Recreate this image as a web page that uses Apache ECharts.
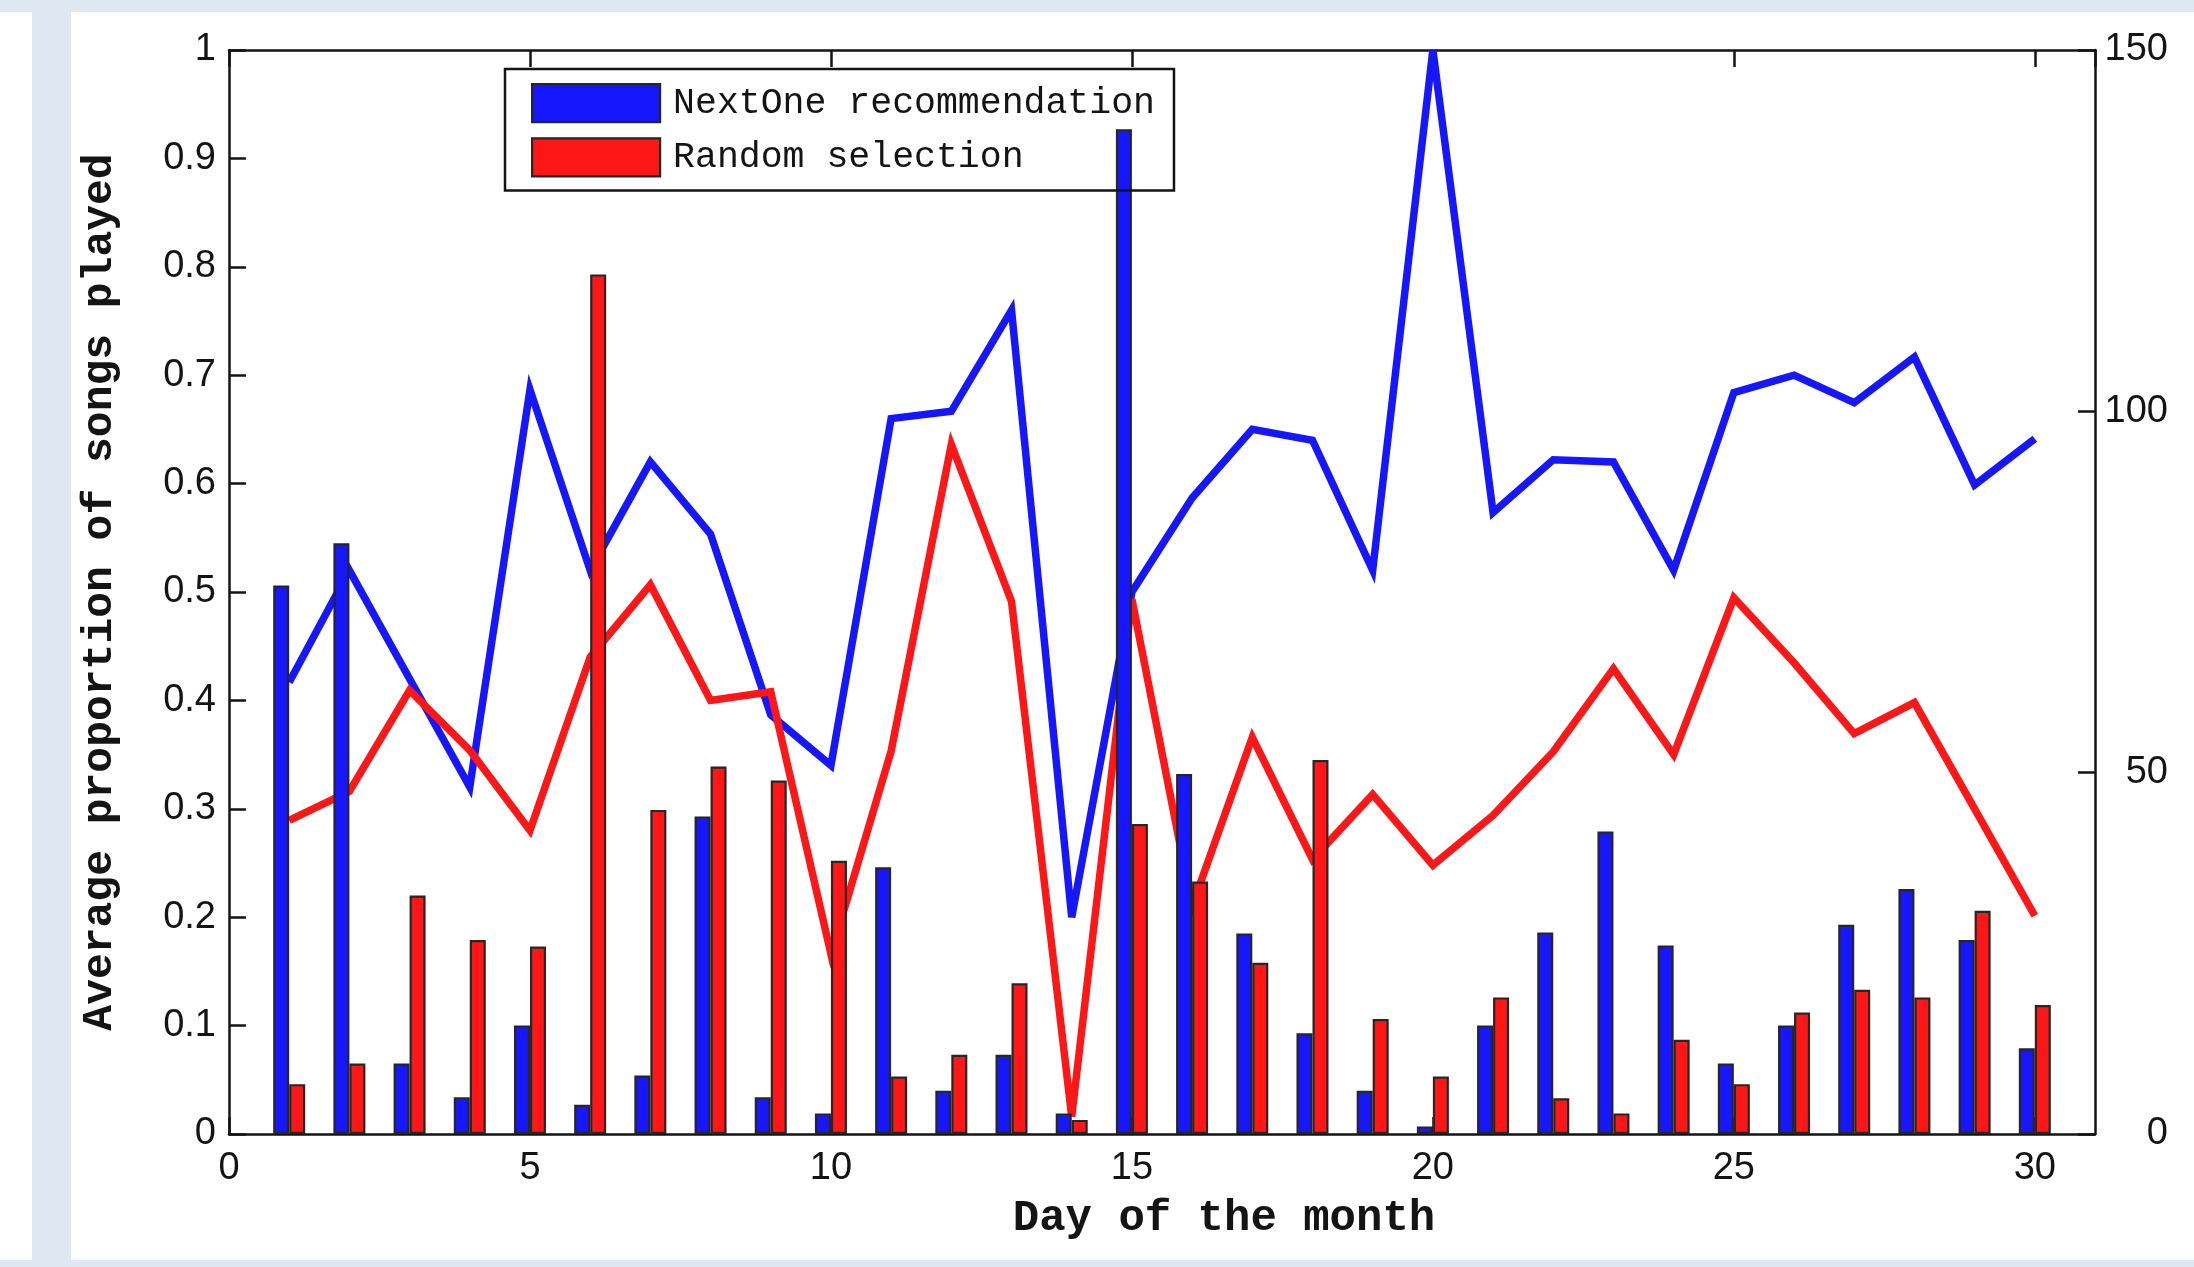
<!DOCTYPE html>
<html>
<head>
<meta charset="utf-8">
<title>Average proportion of songs played by day of the month</title>
<script src="https://cdn.jsdelivr.net/npm/echarts@6/dist/echarts.min.js"></script>
<style>
  html, body { margin: 0; padding: 0; }
  body { width: 2194px; height: 1267px; background: #dfe8f1; position: relative; overflow: hidden; }
  .panel { position: absolute; background: #ffffff; }
  #chart { position: absolute; left: 0; top: 0; width: 2194px; height: 1267px; }
</style>
</head>
<body>
<div class="panel" style="left:0;top:12px;width:32px;height:1248px;"></div>
<div class="panel" style="left:71px;top:12px;width:2123px;height:1248px;"></div>
<div id="chart"></div>
<script>
// Day of the month
const days = [1, 2, 3, 4, 5, 6, 7, 8, 9, 10, 11, 12, 13, 14, 15,
              16, 17, 18, 19, 20, 21, 22, 23, 24, 25, 26, 27, 28, 29, 30];

// Bars: average proportion of songs played (left axis, 0-1)
const nextOneBars = [0.506, 0.545, 0.065, 0.034, 0.100, 0.027, 0.054, 0.293, 0.034, 0.019,
                     0.246, 0.040, 0.073, 0.019, 0.927, 0.332, 0.185, 0.093, 0.040, 0.007,
                     0.100, 0.186, 0.279, 0.174, 0.065, 0.100, 0.193, 0.226, 0.179, 0.079];
const randomBars  = [0.046, 0.065, 0.220, 0.179, 0.173, 0.793, 0.299, 0.339, 0.326, 0.252,
                     0.053, 0.073, 0.139, 0.013, 0.286, 0.233, 0.158, 0.345, 0.106, 0.053,
                     0.126, 0.033, 0.019, 0.087, 0.046, 0.112, 0.133, 0.126, 0.206, 0.119];

// Lines: daily totals on the right axis (0-150)
const nextOneLine = [62.5, 78, 63, 48, 103, 78, 93, 83, 58, 51,
                     99, 100, 114, 30, 75, 88, 97.5, 96, 78, 150,
                     86, 93.3, 93, 78, 102.6, 105, 101.2, 107.5, 89.8, 96.2];
const randomLine  = [43.4, 47.4, 61.4, 53.1, 42, 66, 76, 60, 61.2, 24.9,
                     53, 95.4, 73.7, 2.4, 74, 31.5, 54.9, 38, 47, 37.2,
                     44.1, 52.9, 64.4, 52.5, 74.2, 65.2, 55.4, 59.7, 45, 30.2];

// Axis ticks
const xTicks = { min: 0, max: 31, interval: 5 };
const leftTicks = { min: 0, max: 1, interval: 0.1 };
const rightTicks = { min: 0, max: 150, interval: 50 };

const seriesNames = ['NextOne recommendation', 'Random selection'];

const BLUE = '#1717ff';
const RED = '#ff1717';
const INK = '#141414';
const EDGE = '#262626';

const pairs = (xs, ys) => xs.map((x, i) => [x, ys[i]]);

const tickFont = { fontFamily: 'Liberation Sans, Arial, Helvetica, sans-serif', fontSize: 38, color: INK };
const titleFont = { fontFamily: 'Liberation Mono, Courier New, monospace', fontWeight: 'bold', color: INK };
const axisLine = { show: true, onZero: false, lineStyle: { color: INK, width: 2.5 } };
const innerTick = { show: true, inside: true, length: 17, lineStyle: { color: INK, width: 2.5 } };

const chart = echarts.init(document.getElementById('chart'), null, { renderer: 'canvas' });

chart.setOption({
  backgroundColor: 'transparent',
  animation: false,
  grid: { left: 229, top: 50, right: 99, bottom: 133, containLabel: false },
  legend: {
    data: seriesNames,
    orient: 'vertical',
    left: 505,
    top: 69,
    padding: [14, 19, 13, 26],
    itemWidth: 128,
    itemHeight: 38,
    itemGap: 14,
    icon: 'rect',
    borderColor: INK,
    borderWidth: 2.5,
    borderRadius: 0,
    backgroundColor: 'transparent',
    itemStyle: { borderColor: EDGE, borderWidth: 2.2 },
    textStyle: {
      fontFamily: 'Liberation Mono, Courier New, monospace',
      fontSize: 36.5,
      color: INK,
      padding: [0, 0, 0, 8]
    }
  },
  xAxis: [
    {
      type: 'value',
      position: 'bottom',
      min: xTicks.min, max: xTicks.max, interval: xTicks.interval,
      name: 'Day of the month',
      nameLocation: 'middle',
      nameGap: 63,
      nameTextStyle: Object.assign({ fontSize: 44, padding: [0, 0, 0, 124] }, titleFont),
      axisLine: axisLine,
      axisTick: innerTick,
      axisLabel: Object.assign({ margin: 16, showMaxLabel: false }, tickFont),
      splitLine: { show: false }
    },
    {
      type: 'value',
      position: 'top',
      min: xTicks.min, max: xTicks.max, interval: xTicks.interval,
      axisLine: axisLine,
      axisTick: innerTick,
      axisLabel: { show: false },
      splitLine: { show: false }
    }
  ],
  yAxis: [
    {
      type: 'value',
      position: 'left',
      min: leftTicks.min, max: leftTicks.max, interval: leftTicks.interval,
      name: 'Average proportion of songs played',
      nameLocation: 'middle',
      nameRotate: 90,
      nameGap: 107,
      nameTextStyle: Object.assign({ fontSize: 43 }, titleFont),
      axisLine: axisLine,
      axisTick: innerTick,
      axisLabel: Object.assign({ margin: 13 }, tickFont),
      splitLine: { show: false }
    },
    {
      type: 'value',
      position: 'right',
      min: rightTicks.min, max: rightTicks.max, interval: rightTicks.interval,
      axisLine: axisLine,
      axisTick: innerTick,
      axisLabel: Object.assign({ margin: 73, align: 'right' }, tickFont),
      splitLine: { show: false }
    }
  ],
  series: [
    {
      name: seriesNames[0],
      type: 'bar',
      xAxisIndex: 0,
      yAxisIndex: 0,
      z: 3,
      barWidth: 16,
      barGap: '0%',
      itemStyle: { color: BLUE, borderColor: EDGE, borderWidth: 2.2 },
      data: pairs(days, nextOneBars)
    },
    {
      name: seriesNames[1],
      type: 'bar',
      xAxisIndex: 0,
      yAxisIndex: 0,
      z: 3,
      barWidth: 16,
      barGap: '0%',
      itemStyle: { color: RED, borderColor: EDGE, borderWidth: 2.2 },
      data: pairs(days, randomBars)
    },
    {
      name: seriesNames[0],
      type: 'line',
      xAxisIndex: 0,
      yAxisIndex: 1,
      z: 1,
      showSymbol: false,
      symbol: 'none',
      lineStyle: { color: BLUE, width: 7.5, join: 'miter', miterLimit: 6 },
      data: pairs(days, nextOneLine)
    },
    {
      name: seriesNames[1],
      type: 'line',
      xAxisIndex: 0,
      yAxisIndex: 1,
      z: 1,
      showSymbol: false,
      symbol: 'none',
      lineStyle: { color: RED, width: 7.5, join: 'miter', miterLimit: 6 },
      data: pairs(days, randomLine)
    }
  ]
});
</script>
</body>
</html>
